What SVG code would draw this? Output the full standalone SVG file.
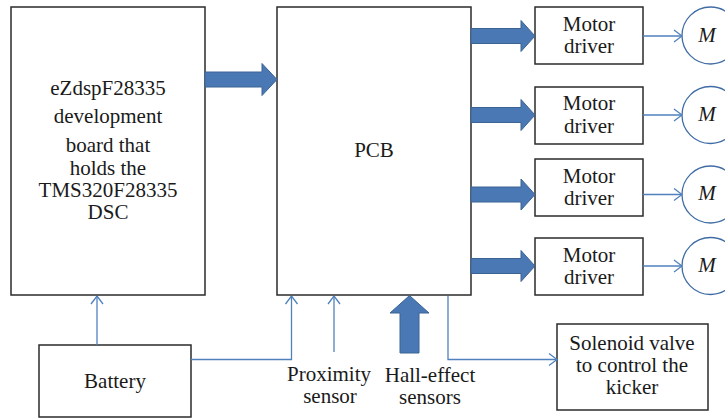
<svg xmlns="http://www.w3.org/2000/svg" width="725" height="418" viewBox="0 0 725 418">
<style>
.box{fill:#fff;stroke:#2b2b2b;stroke-width:1.5}
.t{font-family:'Liberation Serif','Times New Roman','DejaVu Serif',serif;font-size:21px;fill:#1a1a1a;text-anchor:middle}
.m{font-style:italic}
.thin{fill:none;stroke:#4F81BD;stroke-width:1.3}
.blk{fill:#4A78B4;stroke:#3B6494;stroke-width:1}
.mot{fill:#fff;stroke:#3F6CA6;stroke-width:1.3}
</style>
<defs>
<marker id="open" viewBox="0 0 10 14" refX="9.5" refY="7" markerWidth="10" markerHeight="14" markerUnits="userSpaceOnUse" orient="auto">
<polyline points="1.5,1 9.5,7 1.5,13" fill="none" stroke="#4F81BD" stroke-width="1.3"/>
</marker>
</defs>
<rect width="725" height="418" fill="#fff"/>
<g id="dev-board">
<rect class="box" x="11" y="7" width="194" height="288"/>
<text class="t" x="108" y="95">eZdspF28335</text>
<text class="t" x="108" y="123">development</text>
<text class="t" x="108" y="152">board that</text>
<text class="t" x="108" y="175">holds the</text>
<text class="t" x="108" y="197">TMS320F28335</text>
<text class="t" x="108" y="219">DSC</text>
</g>
<g id="pcb">
<rect class="box" x="277" y="7" width="194" height="288"/>
<text class="t" x="374" y="157">PCB</text>
</g>
<g id="driver1">
<rect class="box" x="535" y="7" width="108" height="57"/>
<text class="t" x="589" y="31">Motor</text>
<text class="t" x="589" y="53">driver</text>
</g>
<g id="driver2">
<rect class="box" x="535" y="87" width="108" height="57"/>
<text class="t" x="589" y="110">Motor</text>
<text class="t" x="589" y="133">driver</text>
</g>
<g id="driver3">
<rect class="box" x="535" y="159" width="108" height="57"/>
<text class="t" x="589" y="183">Motor</text>
<text class="t" x="589" y="205">driver</text>
</g>
<g id="driver4">
<rect class="box" x="535" y="238" width="108" height="57"/>
<text class="t" x="589" y="262">Motor</text>
<text class="t" x="589" y="284">driver</text>
</g>
<g id="motor1">
<circle class="mot" cx="710.5" cy="35.5" r="28.5"/>
<text class="t m" x="707" y="42">M</text>
</g>
<g id="motor2">
<circle class="mot" cx="710.5" cy="115" r="28.5"/>
<text class="t m" x="707" y="121">M</text>
</g>
<g id="motor3">
<circle class="mot" cx="710.5" cy="194.5" r="28.5"/>
<text class="t m" x="707" y="200">M</text>
</g>
<g id="motor4">
<circle class="mot" cx="710.5" cy="266" r="28.5"/>
<text class="t m" x="707" y="272">M</text>
</g>
<g id="battery">
<rect class="box" x="39" y="345" width="152" height="72"/>
<text class="t" x="115" y="388">Battery</text>
</g>
<g id="solenoid">
<rect class="box" x="557" y="324" width="151" height="86"/>
<text class="t" x="632" y="350">Solenoid valve</text>
<text class="t" x="632" y="372">to control the</text>
<text class="t" x="632" y="394">kicker</text>
</g>
<g id="proximity">
<text class="t" x="329" y="381">Proximity</text>
<text class="t" x="330" y="403">sensor</text>
</g>
<g id="hall">
<text class="t" x="430" y="382">Hall-effect</text>
<text class="t" x="430" y="404">sensors</text>
</g>
<g id="connectors">
<polygon class="blk" points="205,72 262,72 262,63.5 277,79.5 262,95.5 262,87 205,87"/>
<polygon class="blk" points="471,28.5 521,28.5 521,20.5 535,36 521,51.5 521,43.5 471,43.5"/>
<polygon class="blk" points="471,107.5 521,107.5 521,99.5 535,115 521,130.5 521,122.5 471,122.5"/>
<polygon class="blk" points="471,187 521,187 521,179 535,194.5 521,210 521,202 471,202"/>
<polygon class="blk" points="471,258.5 521,258.5 521,250.5 535,266 521,281.5 521,273.5 471,273.5"/>
<polygon class="blk" points="400,353 400,313 390,313 409.5,295.5 429,313 419,313 419,353"/>
<line class="thin" x1="643" y1="36" x2="682" y2="36" marker-end="url(#open)"/>
<line class="thin" x1="643" y1="115" x2="682" y2="115" marker-end="url(#open)"/>
<line class="thin" x1="643" y1="194.5" x2="682" y2="194.5" marker-end="url(#open)"/>
<line class="thin" x1="643" y1="266" x2="682" y2="266" marker-end="url(#open)"/>
<line class="thin" x1="97" y1="345" x2="97" y2="296" marker-end="url(#open)"/>
<polyline class="thin" points="191,359.5 291.5,359.5 291.5,296" marker-end="url(#open)"/>
<line class="thin" x1="334" y1="352" x2="334" y2="296" marker-end="url(#open)"/>
<polyline class="thin" points="448,296 448,359.5 557,359.5" marker-end="url(#open)"/>
</g>
</svg>
